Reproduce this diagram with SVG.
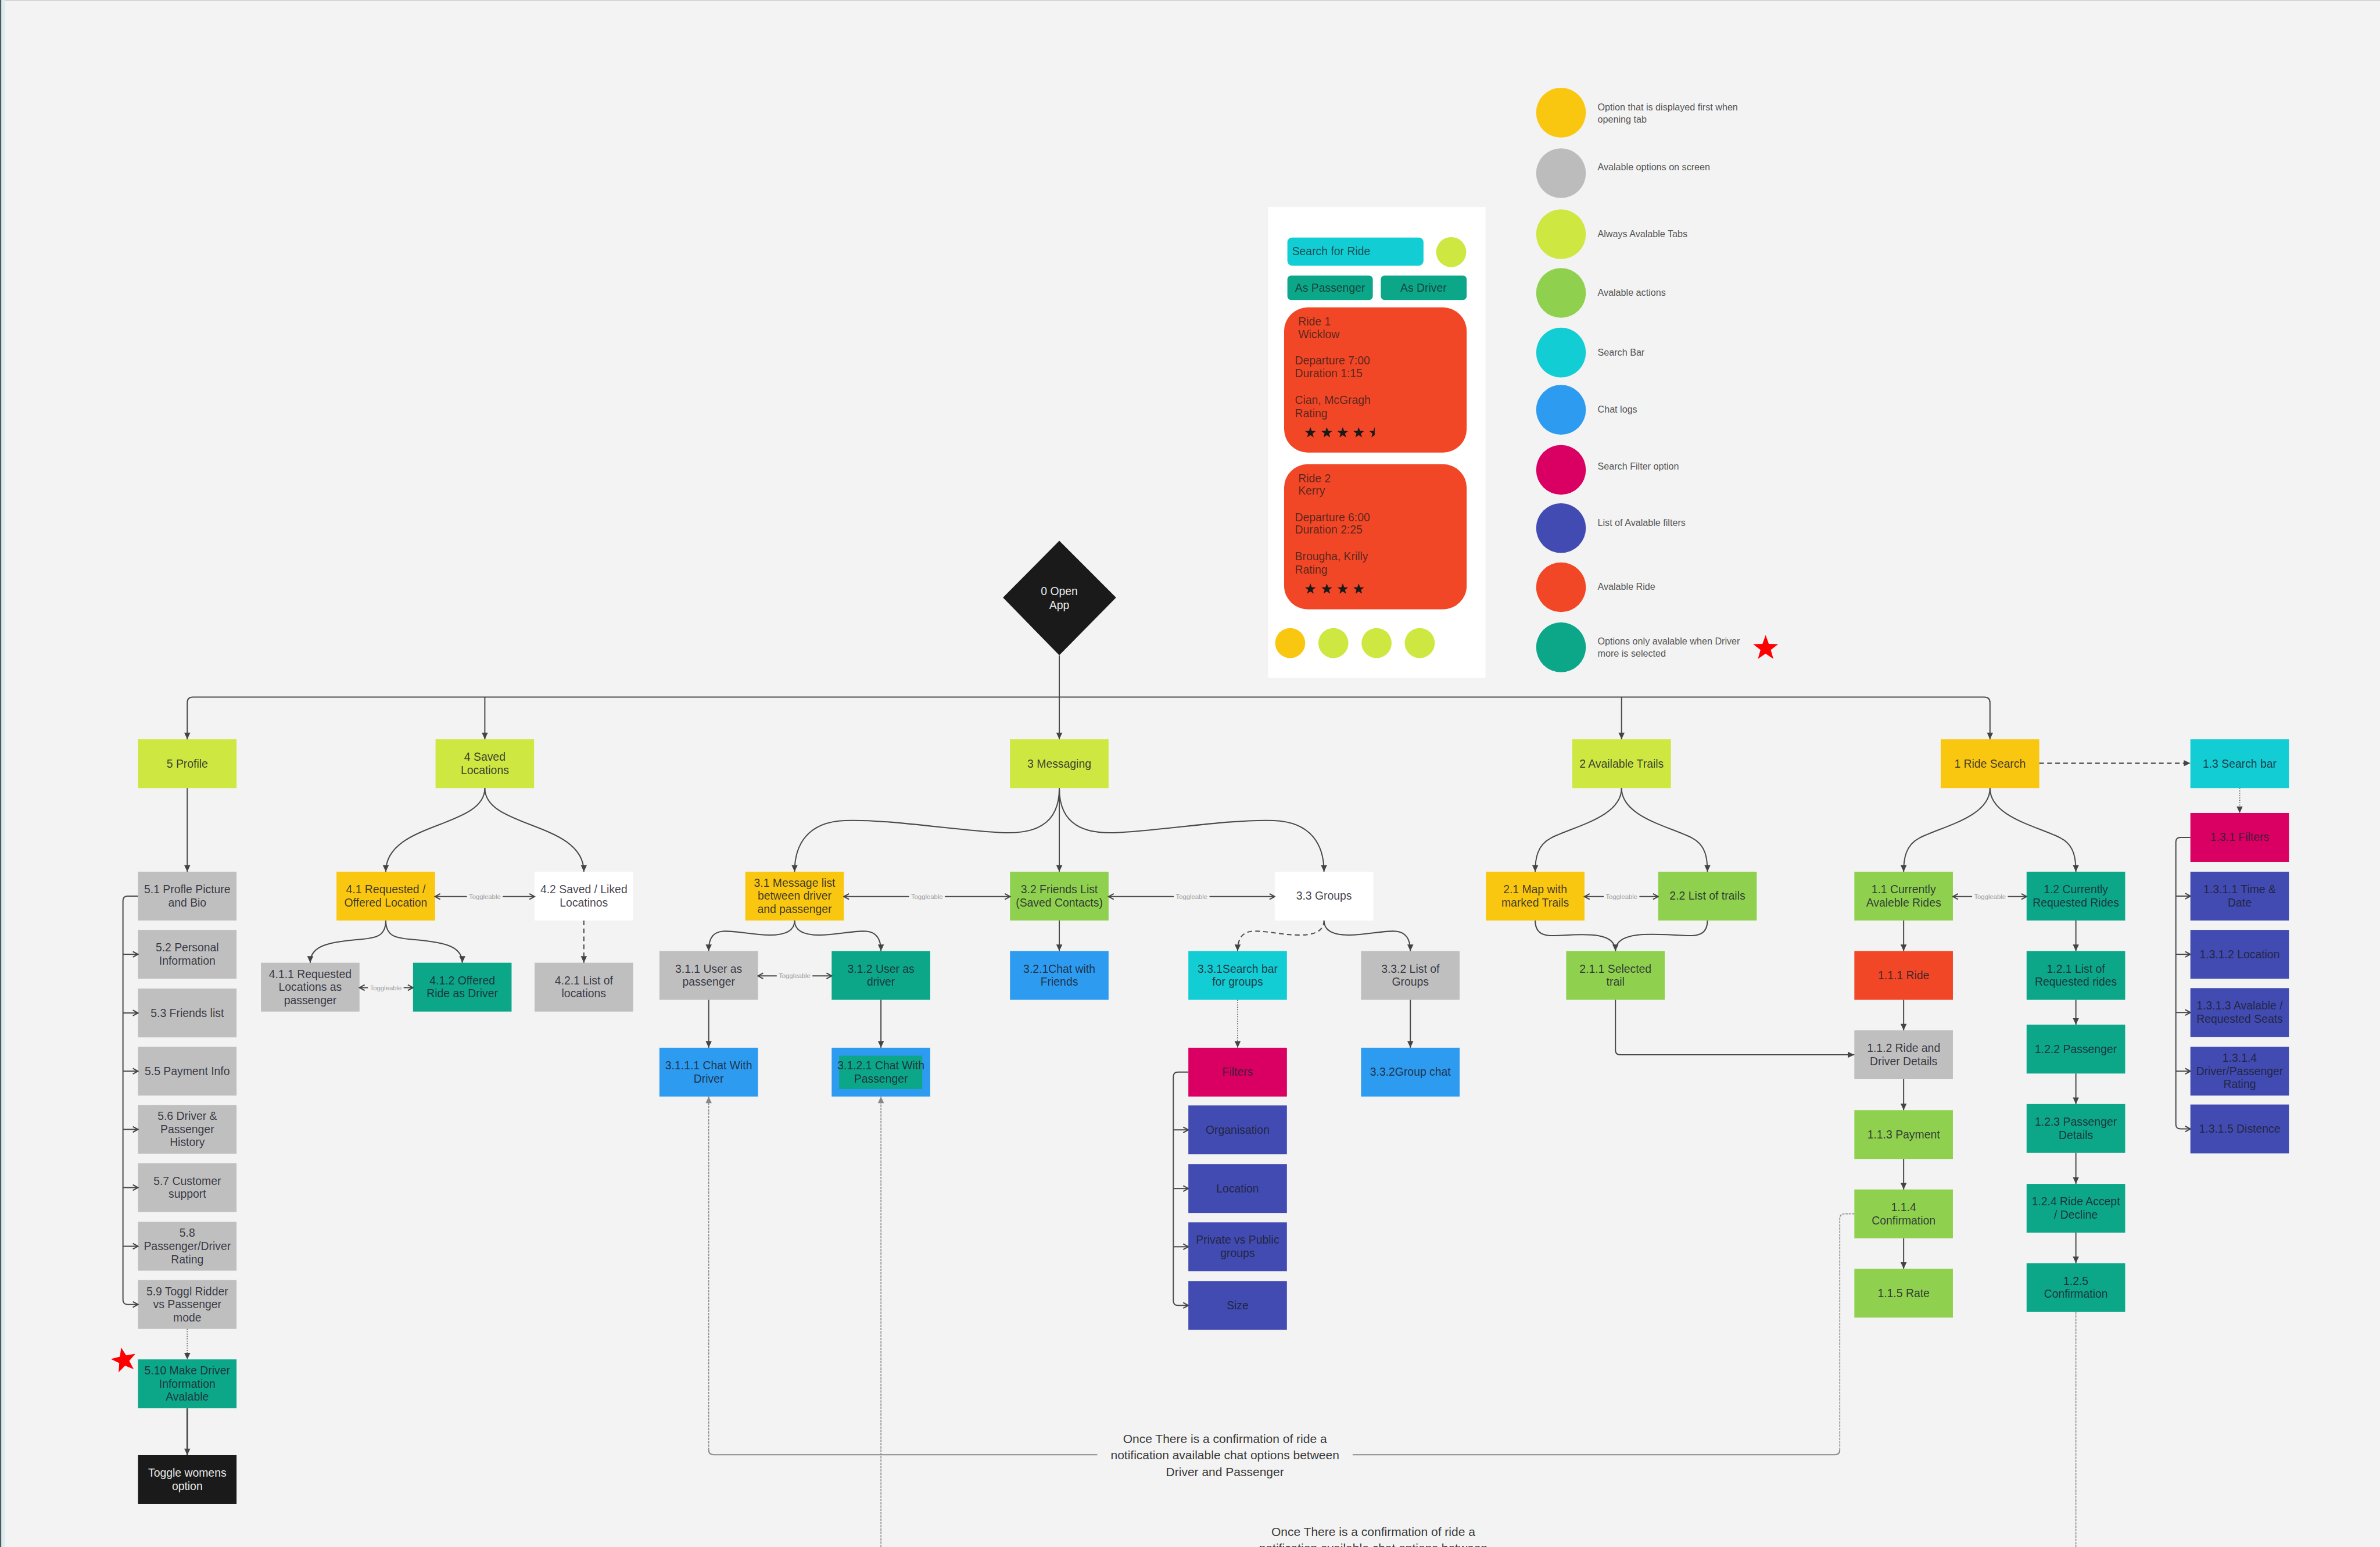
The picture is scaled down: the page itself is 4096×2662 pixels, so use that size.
<svg xmlns="http://www.w3.org/2000/svg" width="4096" height="2662" viewBox="0 0 4096 2662">
<defs>
<style>
.lime{fill:#cee741}.yel{fill:#fac710}.gry{fill:#bfbfbf}.grn{fill:#8fd14f}.cyn{fill:#12cdd4}.blu{fill:#2d9bf0}.mag{fill:#da0063}.ind{fill:#414bb2}.org{fill:#f24726}.tea{fill:#0ca789}.wht{fill:#ffffff}.blk{fill:#1a1a1a}
.node text{font-family:"Liberation Sans",Arial,sans-serif;font-size:24px;text-anchor:middle;fill:#1e1e2e;fill-opacity:.85}
.node text.lt{fill:#e8e8e8;fill-opacity:1}
.c{fill:none;stroke:#4a4a4a;stroke-width:2.5}
.dash{stroke-dasharray:10 7}
.dot{stroke:#6a6a6a;stroke-dasharray:2 3}
.thin{fill:none;stroke:#8a8a8a;stroke-width:2;stroke-dasharray:5 2}
.thinS{fill:none;stroke:#8a8a8a;stroke-width:2.5}
.tg{font-family:"Liberation Sans",Arial,sans-serif;font-size:14px;text-anchor:middle;fill:#9a9a9a}
.tgb{fill:#f3f3f3}
.lg{font-family:"Liberation Sans",Arial,sans-serif;font-size:20px;fill:#555555}
.ph{font-family:"Liberation Sans",Arial,sans-serif;font-size:24px;fill:#1a1a1a;fill-opacity:.72}
.ann{font-family:"Liberation Sans",Arial,sans-serif;font-size:26px;text-anchor:middle;fill:#3a3a3a}
</style>
<marker id="ah" viewBox="0 0 16 16" refX="15" refY="8" markerWidth="16" markerHeight="16" markerUnits="userSpaceOnUse" orient="auto-start-reverse"><path d="M1,1.5 L15,8 L1,14.5 Z" fill="#444"/></marker>
<marker id="ahg" viewBox="0 0 16 16" refX="15" refY="8" markerWidth="16" markerHeight="16" markerUnits="userSpaceOnUse" orient="auto-start-reverse"><path d="M1,1.5 L15,8 L1,14.5 Z" fill="#888"/></marker>
<marker id="ch" viewBox="0 0 16 16" refX="14" refY="8" markerWidth="16" markerHeight="16" markerUnits="userSpaceOnUse" orient="auto-start-reverse"><path d="M3,2 L14,8 L3,14" fill="none" stroke="#444" stroke-width="2.5"/></marker>
<path id="star" d="M0,-28 L6.76,-9.3 L26.63,-8.65 L10.94,3.55 L16.46,22.65 L0,11.5 L-16.46,22.65 L-10.94,3.55 L-26.63,-8.65 L-6.76,-9.3 Z"/>
<clipPath id="half"><rect x="-30" y="-30" width="30" height="60"/></clipPath>
</defs>
<rect x="0" y="0" width="4096" height="2662" fill="#f3f3f3"/>
<g transform="scale(0.80773)">
<rect x="0" y="0" width="5071" height="2" fill="#d0d0d0"/>
<rect x="0" y="0" width="3" height="3296" fill="#555555"/>
<rect x="3" y="0" width="8" height="3296" fill="#d8eef3"/>

<!-- Legend -->
<g id="legend">
<circle cx="3326" cy="240" r="53" class="yel"/>
<circle cx="3326" cy="369" r="53" fill="#bcbcbc"/>
<circle cx="3326" cy="499" r="53" class="lime"/>
<circle cx="3326" cy="624" r="53" class="grn"/>
<circle cx="3326" cy="751" r="53" class="cyn"/>
<circle cx="3326" cy="873" r="53" class="blu"/>
<circle cx="3326" cy="1001" r="53" class="mag"/>
<circle cx="3326" cy="1125" r="53" class="ind"/>
<circle cx="3326" cy="1251" r="53" class="org"/>
<circle cx="3326" cy="1379" r="53" class="tea"/>
<text class="lg"><tspan x="3404" y="235">Option that is displayed first when</tspan><tspan x="3404" y="261">opening tab</tspan></text>
<text class="lg" x="3404" y="363">Avalable options on screen</text>
<text class="lg" x="3404" y="505">Always Avalable Tabs</text>
<text class="lg" x="3404" y="630">Avalable actions</text>
<text class="lg" x="3404" y="758">Search Bar</text>
<text class="lg" x="3404" y="879">Chat logs</text>
<text class="lg" x="3404" y="1000">Search Filter option</text>
<text class="lg" x="3404" y="1121">List of Avalable filters</text>
<text class="lg" x="3404" y="1257">Avalable Ride</text>
<text class="lg"><tspan x="3404" y="1373">Options only avalable when Driver</tspan><tspan x="3404" y="1399">more is selected</tspan></text>
<use href="#star" fill="#ff0000" transform="translate(3762,1381)"/>
</g>

<!-- Phone mockup -->
<g id="phone">
<rect x="2702" y="441" width="463" height="1003" fill="#ffffff"/>
<rect x="2743" y="506" width="290" height="60" rx="10" class="cyn"/>
<text class="ph" x="2753" y="544">Search for Ride</text>
<circle cx="3092" cy="537" r="32" class="lime"/>
<rect x="2743" y="587" width="182" height="52" rx="8" class="tea"/>
<text class="ph" x="2834" y="622" text-anchor="middle">As Passenger</text>
<rect x="2942" y="587" width="183" height="52" rx="8" class="tea"/>
<text class="ph" x="3033" y="622" text-anchor="middle">As Driver</text>
<rect x="2736" y="655" width="389" height="309" rx="50" class="org"/>
<text class="ph"><tspan x="2766" y="693">Ride 1</tspan><tspan x="2766" y="720">Wicklow</tspan><tspan x="2759" y="776">Departure 7:00</tspan><tspan x="2759" y="804">Duration 1:15</tspan><tspan x="2759" y="860">Cian, McGragh</tspan><tspan x="2759" y="889">Rating</tspan></text>
<g fill="#1a1a1a">
<use href="#star" transform="translate(2792,922) scale(0.43)"/>
<use href="#star" transform="translate(2827,922) scale(0.43)"/>
<use href="#star" transform="translate(2861,922) scale(0.43)"/>
<use href="#star" transform="translate(2895,922) scale(0.43)"/>
<use href="#star" transform="translate(2929,922) scale(0.43)" clip-path="url(#half)"/>
</g>
<rect x="2736" y="989" width="389" height="309" rx="50" class="org"/>
<text class="ph"><tspan x="2766" y="1027">Ride 2</tspan><tspan x="2766" y="1053">Kerry</tspan><tspan x="2759" y="1110">Departure 6:00</tspan><tspan x="2759" y="1137">Duration 2:25</tspan><tspan x="2759" y="1194">Brougha, Krilly</tspan><tspan x="2759" y="1222">Rating</tspan></text>
<g fill="#1a1a1a">
<use href="#star" transform="translate(2792,1255) scale(0.43)"/>
<use href="#star" transform="translate(2827,1255) scale(0.43)"/>
<use href="#star" transform="translate(2861,1255) scale(0.43)"/>
<use href="#star" transform="translate(2895,1255) scale(0.43)"/>
</g>
<circle cx="2749" cy="1370" r="32" class="yel"/>
<circle cx="2841" cy="1370" r="32" class="lime"/>
<circle cx="2933" cy="1370" r="32" class="lime"/>
<circle cx="3025" cy="1370" r="32" class="lime"/>
</g>

<!-- Nodes -->
<g id="n-0" class="node"><polygon points="2257,1152 2378,1273 2257,1396 2137,1273" class="blk"/><text class="lt"><tspan x="2257" y="1268">0 Open</tspan><tspan x="2257" y="1298">App</tspan></text></g>

<g id="n-5" class="node"><rect x="294" y="1575" width="210" height="104" class="lime"/><text x="399" y="1635">5 Profile</text></g>
<g id="n-4" class="node"><rect x="928" y="1575" width="210" height="104" class="lime"/><text><tspan x="1033" y="1621">4 Saved</tspan><tspan x="1033" y="1649">Locations</tspan></text></g>
<g id="n-3" class="node"><rect x="2152" y="1575" width="210" height="104" class="lime"/><text x="2257" y="1635">3 Messaging</text></g>
<g id="n-2" class="node"><rect x="3350" y="1575" width="210" height="104" class="lime"/><text x="3455" y="1635">2 Available Trails</text></g>
<g id="n-1" class="node"><rect x="4135" y="1575" width="210" height="104" class="yel"/><text x="4240" y="1635">1 Ride Search</text></g>
<g id="n-1-3" class="node"><rect x="4667" y="1575" width="210" height="104" class="cyn"/><text x="4772" y="1635">1.3 Search bar</text></g>

<g id="n-5-1" class="node"><rect x="294" y="1857" width="210" height="104" class="gry"/><text><tspan x="399" y="1903">5.1 Profle Picture</tspan><tspan x="399" y="1931">and Bio</tspan></text></g>
<g id="n-5-2" class="node"><rect x="294" y="1981" width="210" height="104" class="gry"/><text><tspan x="399" y="2027">5.2 Personal</tspan><tspan x="399" y="2055">Information</tspan></text></g>
<g id="n-5-3" class="node"><rect x="294" y="2106" width="210" height="104" class="gry"/><text x="399" y="2166">5.3 Friends list</text></g>
<g id="n-5-5" class="node"><rect x="294" y="2230" width="210" height="104" class="gry"/><text x="399" y="2290">5.5 Payment Info</text></g>
<g id="n-5-6" class="node"><rect x="294" y="2354" width="210" height="104" class="gry"/><text><tspan x="399" y="2386">5.6 Driver &amp;</tspan><tspan x="399" y="2414">Passenger</tspan><tspan x="399" y="2442">History</tspan></text></g>
<g id="n-5-7" class="node"><rect x="294" y="2478" width="210" height="104" class="gry"/><text><tspan x="399" y="2524">5.7 Customer</tspan><tspan x="399" y="2552">support</tspan></text></g>
<g id="n-5-8" class="node"><rect x="294" y="2603" width="210" height="104" class="gry"/><text><tspan x="399" y="2635">5.8</tspan><tspan x="399" y="2663">Passenger/Driver</tspan><tspan x="399" y="2691">Rating</tspan></text></g>
<g id="n-5-9" class="node"><rect x="294" y="2727" width="210" height="104" class="gry"/><text><tspan x="399" y="2759">5.9 Toggl Ridder</tspan><tspan x="399" y="2787">vs Passenger</tspan><tspan x="399" y="2815">mode</tspan></text></g>
<g id="n-5-10" class="node"><rect x="294" y="2896" width="210" height="104" class="tea"/><text><tspan x="399" y="2928">5.10 Make Driver</tspan><tspan x="399" y="2956">Information</tspan><tspan x="399" y="2984">Avalable</tspan></text><use href="#star" fill="#ff0000" transform="translate(264,2898) rotate(-12)"/></g>
<g id="n-toggle-womens" class="node"><rect x="294" y="3100" width="210" height="104" class="blk"/><text class="lt"><tspan x="399" y="3146">Toggle womens</tspan><tspan x="399" y="3174">option</tspan></text></g>

<g id="n-4-1" class="node"><rect x="717" y="1857" width="210" height="104" class="yel"/><text><tspan x="822" y="1903">4.1 Requested /</tspan><tspan x="822" y="1931">Offered Location</tspan></text></g>
<g id="n-4-2" class="node"><rect x="1139" y="1857" width="210" height="104" class="wht"/><text><tspan x="1244" y="1903">4.2 Saved / Liked</tspan><tspan x="1244" y="1931">Locatinos</tspan></text></g>
<g id="n-4-1-1" class="node"><rect x="556" y="2051" width="210" height="104" class="gry"/><text><tspan x="661" y="2083">4.1.1 Requested</tspan><tspan x="661" y="2111">Locations as</tspan><tspan x="661" y="2139">passenger</tspan></text></g>
<g id="n-4-1-2" class="node"><rect x="880" y="2051" width="210" height="104" class="tea"/><text><tspan x="985" y="2097">4.1.2 Offered</tspan><tspan x="985" y="2125">Ride as Driver</tspan></text></g>
<g id="n-4-2-1" class="node"><rect x="1139" y="2051" width="210" height="104" class="gry"/><text><tspan x="1244" y="2097">4.2.1 List of</tspan><tspan x="1244" y="2125">locations</tspan></text></g>

<g id="n-3-1" class="node"><rect x="1588" y="1857" width="210" height="104" class="yel"/><text><tspan x="1693" y="1889">3.1 Message list</tspan><tspan x="1693" y="1917">between driver</tspan><tspan x="1693" y="1945">and passenger</tspan></text></g>
<g id="n-3-2" class="node"><rect x="2152" y="1857" width="210" height="104" class="grn"/><text><tspan x="2257" y="1903">3.2 Friends List</tspan><tspan x="2257" y="1931">(Saved Contacts)</tspan></text></g>
<g id="n-3-3" class="node"><rect x="2716" y="1857" width="210" height="104" class="wht"/><text x="2821" y="1917">3.3 Groups</text></g>
<g id="n-3-1-1" class="node"><rect x="1405" y="2026" width="210" height="104" class="gry"/><text><tspan x="1510" y="2072">3.1.1 User as</tspan><tspan x="1510" y="2100">passenger</tspan></text></g>
<g id="n-3-1-2" class="node"><rect x="1772" y="2026" width="210" height="104" class="tea"/><text><tspan x="1877" y="2072">3.1.2 User as</tspan><tspan x="1877" y="2100">driver</tspan></text></g>
<g id="n-3-2-1" class="node"><rect x="2152" y="2026" width="210" height="104" class="blu"/><text><tspan x="2257" y="2072">3.2.1Chat with</tspan><tspan x="2257" y="2100">Friends</tspan></text></g>
<g id="n-3-3-1" class="node"><rect x="2532" y="2026" width="210" height="104" class="cyn"/><text><tspan x="2637" y="2072">3.3.1Search bar</tspan><tspan x="2637" y="2100">for groups</tspan></text></g>
<g id="n-3-3-2" class="node"><rect x="2900" y="2026" width="210" height="104" class="gry"/><text><tspan x="3005" y="2072">3.3.2 List of</tspan><tspan x="3005" y="2100">Groups</tspan></text></g>
<g id="n-3-1-1-1" class="node"><rect x="1405" y="2232" width="210" height="104" class="blu"/><text><tspan x="1510" y="2278">3.1.1.1 Chat With</tspan><tspan x="1510" y="2306">Driver</tspan></text></g>
<g id="n-3-1-2-1" class="node"><rect x="1772" y="2232" width="210" height="104" class="blu"/><rect x="1788" y="2249" width="177" height="71" class="tea"/><text><tspan x="1877" y="2278">3.1.2.1 Chat With</tspan><tspan x="1877" y="2306">Passenger</tspan></text></g>
<g id="n-filters" class="node"><rect x="2532" y="2232" width="210" height="104" class="mag"/><text x="2637" y="2292">Filters</text></g>
<g id="n-organisation" class="node"><rect x="2532" y="2355" width="210" height="104" class="ind"/><text x="2637" y="2415">Organisation</text></g>
<g id="n-location" class="node"><rect x="2532" y="2480" width="210" height="104" class="ind"/><text x="2637" y="2540">Location</text></g>
<g id="n-private" class="node"><rect x="2532" y="2604" width="210" height="104" class="ind"/><text><tspan x="2637" y="2650">Private vs Public</tspan><tspan x="2637" y="2678">groups</tspan></text></g>
<g id="n-size" class="node"><rect x="2532" y="2729" width="210" height="104" class="ind"/><text x="2637" y="2789">Size</text></g>
<g id="n-3-3-2-chat" class="node"><rect x="2900" y="2232" width="210" height="104" class="blu"/><text x="3005" y="2292">3.3.2Group chat</text></g>

<g id="n-2-1" class="node"><rect x="3166" y="1857" width="210" height="104" class="yel"/><text><tspan x="3271" y="1903">2.1 Map with</tspan><tspan x="3271" y="1931">marked Trails</tspan></text></g>
<g id="n-2-2" class="node"><rect x="3533" y="1857" width="210" height="104" class="grn"/><text x="3638" y="1917">2.2 List of trails</text></g>
<g id="n-2-1-1" class="node"><rect x="3337" y="2026" width="210" height="104" class="grn"/><text><tspan x="3442" y="2072">2.1.1 Selected</tspan><tspan x="3442" y="2100">trail</tspan></text></g>

<g id="n-1-1" class="node"><rect x="3951" y="1857" width="210" height="104" class="grn"/><text><tspan x="4056" y="1903">1.1 Currently</tspan><tspan x="4056" y="1931">Avaleble Rides</tspan></text></g>
<g id="n-1-1-1" class="node"><rect x="3951" y="2026" width="210" height="104" class="org"/><text x="4056" y="2086">1.1.1 Ride</text></g>
<g id="n-1-1-2" class="node"><rect x="3951" y="2195" width="210" height="104" class="gry"/><text><tspan x="4056" y="2241">1.1.2 Ride and</tspan><tspan x="4056" y="2269">Driver Details</tspan></text></g>
<g id="n-1-1-3" class="node"><rect x="3951" y="2365" width="210" height="104" class="grn"/><text x="4056" y="2425">1.1.3 Payment</text></g>
<g id="n-1-1-4" class="node"><rect x="3951" y="2534" width="210" height="104" class="grn"/><text><tspan x="4056" y="2580">1.1.4</tspan><tspan x="4056" y="2608">Confirmation</tspan></text></g>
<g id="n-1-1-5" class="node"><rect x="3951" y="2703" width="210" height="104" class="grn"/><text x="4056" y="2763">1.1.5 Rate</text></g>
<g id="n-1-2" class="node"><rect x="4318" y="1857" width="210" height="104" class="tea"/><text><tspan x="4423" y="1903">1.2 Currently</tspan><tspan x="4423" y="1931">Requested Rides</tspan></text></g>
<g id="n-1-2-1" class="node"><rect x="4318" y="2026" width="210" height="104" class="tea"/><text><tspan x="4423" y="2072">1.2.1 List of</tspan><tspan x="4423" y="2100">Requested rides</tspan></text></g>
<g id="n-1-2-2" class="node"><rect x="4318" y="2183" width="210" height="104" class="tea"/><text x="4423" y="2243">1.2.2 Passenger</text></g>
<g id="n-1-2-3" class="node"><rect x="4318" y="2352" width="210" height="104" class="tea"/><text><tspan x="4423" y="2398">1.2.3 Passenger</tspan><tspan x="4423" y="2426">Details</tspan></text></g>
<g id="n-1-2-4" class="node"><rect x="4318" y="2522" width="210" height="104" class="tea"/><text><tspan x="4423" y="2568">1.2.4 Ride Accept</tspan><tspan x="4423" y="2596">/ Decline</tspan></text></g>
<g id="n-1-2-5" class="node"><rect x="4318" y="2691" width="210" height="104" class="tea"/><text><tspan x="4423" y="2737">1.2.5</tspan><tspan x="4423" y="2765">Confirmation</tspan></text></g>
<g id="n-1-3-1" class="node"><rect x="4667" y="1732" width="210" height="104" class="mag"/><text x="4772" y="1792">1.3.1 Filters</text></g>
<g id="n-1-3-1-1" class="node"><rect x="4667" y="1857" width="210" height="104" class="ind"/><text><tspan x="4772" y="1903">1.3.1.1 Time &amp;</tspan><tspan x="4772" y="1931">Date</tspan></text></g>
<g id="n-1-3-1-2" class="node"><rect x="4667" y="1981" width="210" height="104" class="ind"/><text x="4772" y="2041">1.3.1.2 Location</text></g>
<g id="n-1-3-1-3" class="node"><rect x="4667" y="2105" width="210" height="104" class="ind"/><text><tspan x="4772" y="2151">1.3.1.3 Avalable /</tspan><tspan x="4772" y="2179">Requested Seats</tspan></text></g>
<g id="n-1-3-1-4" class="node"><rect x="4667" y="2230" width="210" height="104" class="ind"/><text><tspan x="4772" y="2262">1.3.1.4</tspan><tspan x="4772" y="2290">Driver/Passenger</tspan><tspan x="4772" y="2318">Rating</tspan></text></g>
<g id="n-1-3-1-5" class="node"><rect x="4667" y="2353" width="210" height="104" class="ind"/><text x="4772" y="2413">1.3.1.5 Distence</text></g>

<!-- Connectors -->
<g id="connectors">
<g class="c">
<path d="M399,1575 V1497 Q399,1485 411,1485 H4228 Q4240,1485 4240,1497 V1575" marker-start="url(#ah)" marker-end="url(#ah)"/>
<path d="M1033,1485 V1575" marker-end="url(#ah)"/>
<path d="M2257,1396 V1575" marker-end="url(#ah)"/>
<path d="M3455,1485 V1575" marker-end="url(#ah)"/>

<path d="M399,1679 V1857" marker-end="url(#ah)"/>
<path d="M294,1909 H272 Q262,1909 262,1919 V2769 Q262,2779 272,2779 H294" marker-end="url(#ch)"/>
<path d="M262,2033 H294" marker-end="url(#ch)"/>
<path d="M262,2158 H294" marker-end="url(#ch)"/>
<path d="M262,2282 H294" marker-end="url(#ch)"/>
<path d="M262,2406 H294" marker-end="url(#ch)"/>
<path d="M262,2530 H294" marker-end="url(#ch)"/>
<path d="M262,2655 H294" marker-end="url(#ch)"/>
<path class="dot" d="M399,2831 V2896" marker-end="url(#ah)"/>
<path d="M399,3000 V3100" stroke-width="3.5" marker-end="url(#ah)"/>

<path d="M1033,1679 C1033,1765 822,1750 822,1857" marker-end="url(#ah)"/>
<path d="M1033,1679 C1033,1765 1244,1750 1244,1857" marker-end="url(#ah)"/>
<path d="M927,1910 H1139" marker-start="url(#ch)" marker-end="url(#ch)"/>
<path d="M822,1961 C822,1995 800,1998 770,2001 C705,2007 661,2012 661,2051" marker-end="url(#ah)"/>
<path d="M822,1961 C822,1995 844,1998 874,2001 C939,2007 985,2012 985,2051" marker-end="url(#ah)"/>
<path d="M766,2104 H880" marker-start="url(#ch)" marker-end="url(#ch)"/>
<path class="dash" d="M1244,1961 V2051" marker-end="url(#ah)"/>

<path d="M2257,1679 V1857" marker-end="url(#ah)"/>
<path d="M2257,1679 C2257,1760 2200,1776 2140,1774 C2040,1770 1900,1745 1800,1748 C1720,1751 1693,1800 1693,1857" marker-end="url(#ah)"/>
<path d="M2257,1679 C2257,1760 2314,1776 2374,1774 C2474,1770 2614,1745 2714,1748 C2794,1751 2821,1800 2821,1857" marker-end="url(#ah)"/>
<path d="M1798,1910 H2152" marker-start="url(#ch)" marker-end="url(#ch)"/>
<path d="M2362,1910 H2716" marker-start="url(#ch)" marker-end="url(#ch)"/>
<path d="M1693,1961 C1693,1985 1670,1992 1640,1992 C1600,1992 1570,1982 1540,1984 C1515,1986 1510,2005 1510,2026" marker-end="url(#ah)"/>
<path d="M1693,1961 C1693,1985 1716,1992 1746,1992 C1786,1992 1816,1982 1846,1984 C1871,1986 1877,2005 1877,2026" marker-end="url(#ah)"/>
<path d="M1615,2079 H1772" marker-start="url(#ch)" marker-end="url(#ch)"/>
<path class="dash" d="M2821,1961 C2821,1985 2798,1992 2768,1992 C2728,1992 2698,1982 2668,1984 C2643,1986 2637,2005 2637,2026" marker-end="url(#ah)"/>
<path d="M2821,1961 C2821,1985 2844,1992 2874,1992 C2914,1992 2944,1982 2974,1984 C2999,1986 3005,2005 3005,2026" marker-end="url(#ah)"/>
<path d="M2257,1961 V2026" marker-end="url(#ah)"/>
<path d="M1510,2130 V2232" marker-end="url(#ah)"/>
<path d="M1877,2130 V2232" marker-end="url(#ah)"/>
<path class="dot" d="M2637,2130 V2232" marker-end="url(#ah)"/>
<path d="M3005,2130 V2232" marker-end="url(#ah)"/>
<path d="M2532,2284 H2510 Q2500,2284 2500,2294 V2771 Q2500,2781 2510,2781 H2532" marker-end="url(#ch)"/>
<path d="M2500,2407 H2532" marker-end="url(#ch)"/>
<path d="M2500,2532 H2532" marker-end="url(#ch)"/>
<path d="M2500,2656 H2532" marker-end="url(#ch)"/>

<path d="M3455,1679 C3455,1740 3355,1760 3305,1785 C3275,1800 3271,1830 3271,1857" marker-end="url(#ah)"/>
<path d="M3455,1679 C3455,1740 3555,1760 3605,1785 C3635,1800 3638,1830 3638,1857" marker-end="url(#ah)"/>
<path d="M3376,1910 H3533" marker-start="url(#ch)" marker-end="url(#ch)"/>
<path d="M3271,1961 C3271,1990 3290,1995 3320,1993 C3380,1990 3442,1985 3442,2026" marker-end="url(#ah)"/>
<path d="M3638,1961 C3638,1990 3619,1995 3589,1993 C3510,1988 3442,1985 3442,2026"/>
<path d="M3442,2130 V2237 Q3442,2247 3452,2247 H3951" marker-end="url(#ah)"/>

<path d="M4240,1679 C4240,1740 4140,1760 4090,1785 C4060,1800 4056,1830 4056,1857" marker-end="url(#ah)"/>
<path d="M4240,1679 C4240,1740 4340,1760 4390,1785 C4420,1800 4423,1830 4423,1857" marker-end="url(#ah)"/>
<path d="M4161,1910 H4318" marker-start="url(#ch)" marker-end="url(#ch)"/>
<path class="dash" d="M4345,1626 H4667" marker-end="url(#ah)"/>
<path class="dot" d="M4772,1679 V1732" marker-end="url(#ah)"/>
<path d="M4667,1784 H4646 Q4636,1784 4636,1794 V2395 Q4636,2405 4646,2405 H4667" marker-end="url(#ch)"/>
<path d="M4636,1909 H4667" marker-end="url(#ch)"/>
<path d="M4636,2033 H4667" marker-end="url(#ch)"/>
<path d="M4636,2157 H4667" marker-end="url(#ch)"/>
<path d="M4636,2282 H4667" marker-end="url(#ch)"/>
<path d="M4056,1961 V2026" marker-end="url(#ah)"/>
<path d="M4056,2130 V2195" marker-end="url(#ah)"/>
<path d="M4056,2299 V2365" marker-end="url(#ah)"/>
<path d="M4056,2469 V2534" marker-end="url(#ah)"/>
<path d="M4056,2638 V2703" marker-end="url(#ah)"/>
<path d="M4423,1961 V2026" marker-end="url(#ah)"/>
<path d="M4423,2130 V2183" marker-end="url(#ah)"/>
<path d="M4423,2287 V2352" marker-end="url(#ah)"/>
<path d="M4423,2456 V2522" marker-end="url(#ah)"/>
<path d="M4423,2626 V2691" marker-end="url(#ah)"/>
</g>

<path class="thin" d="M3951,2586 H3930 Q3920,2586 3920,2596 V3089"/>
<path class="thinS" d="M3920,3089 Q3920,3099 3910,3099 H2882"/>
<path class="thinS" d="M2338,3099 H1520 Q1510,3099 1510,3089"/>
<path class="thin" d="M1510,3089 V2336" marker-end="url(#ahg)"/>
<path class="thin" d="M1877,3296 V2336" marker-end="url(#ahg)"/>
<path class="thin" d="M4423,2795 V3296"/>

<g>
<rect class="tgb" x="995" y="1900" width="76" height="20"/><text class="tg" x="1033" y="1915">Toggleable</text>
<rect class="tgb" x="784" y="2094" width="76" height="20"/><text class="tg" x="822" y="2109">Toggleable</text>
<rect class="tgb" x="1937" y="1900" width="76" height="20"/><text class="tg" x="1975" y="1915">Toggleable</text>
<rect class="tgb" x="2501" y="1900" width="76" height="20"/><text class="tg" x="2539" y="1915">Toggleable</text>
<rect class="tgb" x="1655" y="2069" width="76" height="20"/><text class="tg" x="1693" y="2084">Toggleable</text>
<rect class="tgb" x="3417" y="1900" width="76" height="20"/><text class="tg" x="3455" y="1915">Toggleable</text>
<rect class="tgb" x="4202" y="1900" width="76" height="20"/><text class="tg" x="4240" y="1915">Toggleable</text>
</g>

<text class="ann"><tspan x="2610" y="3074">Once There is a confirmation of ride a</tspan><tspan x="2610" y="3109">notification available chat options between</tspan><tspan x="2610" y="3144">Driver and Passenger</tspan></text>
<text class="ann"><tspan x="2926" y="3272">Once There is a confirmation of ride a</tspan><tspan x="2926" y="3307">notification available chat options between</tspan></text>
</g>
</g>
</svg>
